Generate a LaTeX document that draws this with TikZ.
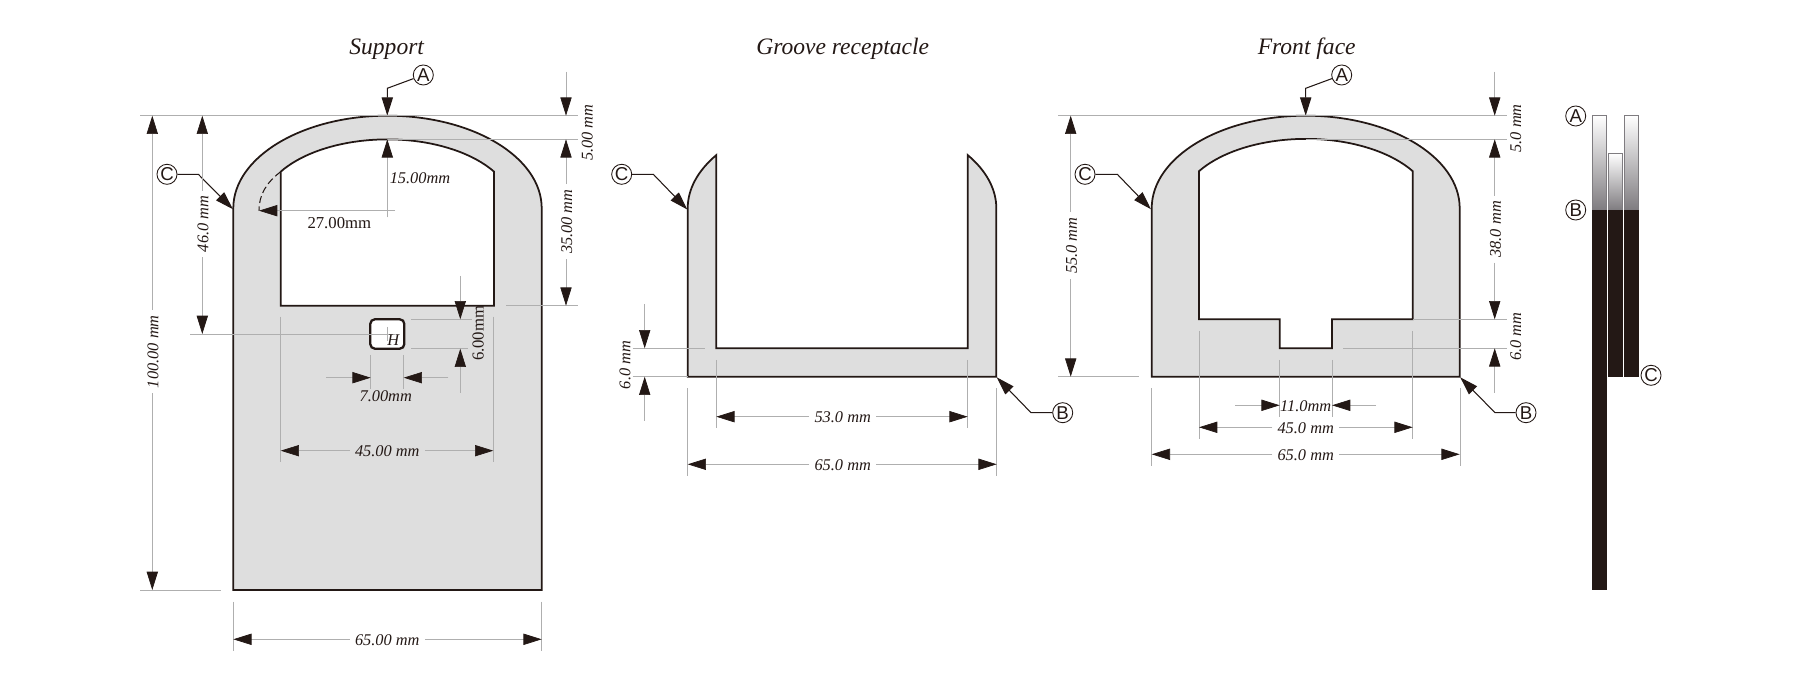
\documentclass[tikz,border=0pt]{standalone}
\usepackage{fontspec}
\setmainfont{Liberation Serif}
\setsansfont{Liberation Sans}
\usetikzlibrary{arrows.meta}
\definecolor{inkblack}{HTML}{231815}
\definecolor{partgrey}{HTML}{DEDEDE}
\definecolor{dimgrey}{HTML}{AFAFAF}
\definecolor{stripgrey}{HTML}{7F7C80}
\tikzset{
    part/.style={fill=partgrey, draw=inkblack, line width=0.5pt},
    hole/.style={fill=white, draw=inkblack, line width=0.5pt},
    ext/.style={draw=dimgrey, line width=0.2pt},
    dimline/.style={draw=dimgrey, line width=0.2pt, -{Triangle[length=5.2pt,width=3.2pt,color=inkblack]}},
    leader/.style={draw=inkblack, line width=0.3pt, -{Triangle[length=5.2pt,width=3.2pt,color=inkblack]}},
    dimtext/.style={font=\fontsize{4.65}{5}\selectfont\itshape, text=inkblack, inner sep=1.3pt, text height=3.5pt},
    title/.style={font=\fontsize{6.7}{8}\selectfont\itshape, text=inkblack},
    tag/.style={circle, draw=inkblack, line width=0.25pt, minimum size=5.7pt, inner sep=0pt, text=inkblack, font=\fontsize{5.3}{5}\selectfont\sffamily},
    strip/.style={draw=stripgrey, line width=0.25pt, top color=white, bottom color=stripgrey},
    stripdark/.style={fill=inkblack}
}
\begin{document}
\begin{tikzpicture}[x=0.01cm, y=-0.01cm]
    \useasboundingbox (0,0) rectangle (1800,686);

    % the titles
    \node[title] (supTitle) at (386.7,49) {Support};
    \node[title] (grvTitle) at (842.7,49) {Groove receptacle};
    \node[title] (frtTitle) at (1306.7,49) {Front face};

    % draw the three parts
    \filldraw[part] (233.3,590) -- (233.3,208.3) arc (180:360:154.2 and 92.6) -- (541.7,590) -- cycle;
    \filldraw[hole] (280.7,305.7) -- (280.7,171.7) arc (212.13:327.87:126 and 69) -- (494.1,305.7) -- cycle;
    \draw[hole, rounded corners=1.3pt, line width=0.65pt] (370.3,319.3) rectangle (404.3,348.7);
    %
    \filldraw[part] (687.7,376.7) -- (687.7,208.3) arc (180:215.07:157.6 and 92.6) -- (716.3,348.3)
        -- (967.7,348.3) -- (967.7,155.1) arc (324.93:360:157.6 and 92.6) -- (996.3,376.7) -- cycle;
    %
    \filldraw[part] (1151.7,376.7) -- (1151.7,208.3) arc (180:360:154 and 92.6) -- (1459.7,376.7) -- cycle;
    \filldraw[hole] (1199,319.3) -- (1199,171.2) arc (212.13:327.87:126.2 and 69) -- (1412.7,319.3)
        -- (1332,319.3) -- (1332,348.3) -- (1279.7,348.3) -- (1279.7,319.3) -- cycle;

    % the side view
    \shade[strip] (1592.3,115.3) rectangle (1606.7,210);
    \shade[strip] (1608.3,153.3) rectangle (1622.7,210);
    \shade[strip] (1624.3,115.3) rectangle (1638.7,210);
    \fill[stripdark] (1592.3,210) rectangle (1606.7,590);
    \fill[stripdark] (1608.3,210) rectangle (1622.7,376.7);
    \fill[stripdark] (1624.3,210) rectangle (1638.7,376.7);

    % the letters and their leaders
    \node[tag] (supA) at (423.3,75) {A};
    \node[tag] (supC) at (167,174.3) {C};
    \coordinate (supAbend) at (387.3,88.3);
    \coordinate (supAtip) at (387.3,115.7);
    \coordinate (supCbend) at (198.3,174.3);
    \coordinate (supCtip) at (233,209.3);
    \draw[leader] (supA) -- (supAbend) -- (supAtip);
    \draw[leader] (supC) -- (supCbend) -- (supCtip);
    %
    \node[tag] (grvC) at (621.7,174.3) {C};
    \node[tag] (grvB) at (1062.7,412.7) {B};
    \coordinate (grvCbend) at (653.3,174.3);
    \coordinate (grvCtip) at (687.4,209.6);
    \coordinate (grvBbend) at (1031,412.7);
    \coordinate (grvBtip) at (996.7,377.3);
    \draw[leader] (grvC) -- (grvCbend) -- (grvCtip);
    \draw[leader] (grvB) -- (grvBbend) -- (grvBtip);
    %
    \node[tag] (frtA) at (1341.7,75) {A};
    \node[tag] (frtC) at (1085,174.3) {C};
    \node[tag] (frtB) at (1526,412.7) {B};
    \coordinate (frtAbend) at (1305.7,88.3);
    \coordinate (frtAtip) at (1305.7,115.7);
    \coordinate (frtCbend) at (1117.3,174.3);
    \coordinate (frtCtip) at (1151,209.3);
    \coordinate (frtBbend) at (1495,412.7);
    \coordinate (frtBtip) at (1460.2,377.3);
    \draw[leader] (frtA) -- (frtAbend) -- (frtAtip);
    \draw[leader] (frtC) -- (frtCbend) -- (frtCtip);
    \draw[leader] (frtB) -- (frtBbend) -- (frtBtip);
    %
    \node[tag] (sideA) at (1575.7,116) {A};
    \node[tag] (sideB) at (1575.7,210) {B};
    \node[tag] (sideC) at (1651,375.3) {C};

    % the support: extension lines
    \draw[ext] (140,115.7) -- (577.7,115.7);
    \draw[ext] (387.3,139.3) -- (577.7,139.3);
    \draw[ext] (506,305.7) -- (577.7,305.7);
    \draw[ext] (190,334) -- (394.5,334);
    \draw[ext] (387.3,327) -- (387.3,341);
    \draw[ext] (140,590) -- (221,590);
    \draw[ext] (411,319.3) -- (472,319.3);
    \draw[ext] (411,348.7) -- (468,348.7);
    \draw[ext] (370.7,355) -- (370.7,389.3);
    \draw[ext] (403.7,355) -- (403.7,389.3);
    \draw[ext] (280.7,316.7) -- (280.7,462.3);
    \draw[ext] (493.3,316.7) -- (493.3,462.3);
    \draw[ext] (233.3,601.7) -- (233.3,651);
    \draw[ext] (541.7,601.7) -- (541.7,651);

    % the support: dimensions
    \node[dimtext, rotate=90] (sup5) at (586.7,132.7) {5.00 mm};
    \draw[dimline] (566,71.7) -- (566,115.7);
    \node[dimtext, rotate=90] (sup35) at (566,221.7) {35.00 mm};
    \draw[dimline] (sup35) -- (566,139.3);
    \draw[dimline] (sup35) -- (566,305.7);
    \node[dimtext, rotate=90] (sup46) at (202.3,224) {46.0 mm};
    \draw[dimline] (sup46) -- (202.3,115.7);
    \draw[dimline] (sup46) -- (202.3,334);
    \node[dimtext, rotate=90] (sup100) at (152.3,351.7) {100.00 mm};
    \draw[dimline] (sup100) -- (152.3,115.7);
    \draw[dimline] (sup100) -- (152.3,590);
    \node[dimtext] (sup15) at (420,177.3) {15.00mm};
    \draw[dimline] (387.3,217.3) -- (387.3,139.3);
    \node[dimtext, font=\fontsize{4.75}{5}\selectfont] (sup27) at (339.3,222.7) {27.00mm};
    \draw[dimline] (395,210.7) -- (259,210.7);
    \draw[inkblack, line width=0.3pt, dash pattern=on 2pt off 1pt] (280.7,171.7) .. controls (266,183) and (259,195) .. (259,210.7);
    \node[dimtext, font=\fontsize{4.75}{5}\selectfont, rotate=90] (sup6) at (477.7,333.3) {6.00mm};
    \draw[dimline] (460.3,276) -- (460.3,319.3);
    \draw[dimline] (460.3,392.7) -- (460.3,348.7);
    \node[dimtext] (sup7) at (385.7,395.5) {7.00mm};
    \draw[dimline] (326,377.7) -- (370.7,377.7);
    \draw[dimline] (448.3,377.7) -- (403.7,377.7);
    \node[dimtext] (sup45) at (387.3,450.7) {45.00 mm};
    \draw[dimline] (sup45) -- (280.7,450.7);
    \draw[dimline] (sup45) -- (493.3,450.7);
    \node[dimtext] (sup65) at (387.3,639.3) {65.00 mm};
    \draw[dimline] (sup65) -- (233.3,639.3);
    \draw[dimline] (sup65) -- (541.7,639.3);
    \node[dimtext] (supH) at (393.3,339) {H};

    % the groove receptacle
    \draw[ext] (632.7,348.3) -- (705,348.3);
    \draw[ext] (632.7,376.7) -- (687.7,376.7);
    \draw[ext] (716.3,360) -- (716.3,428.3);
    \draw[ext] (967.7,360) -- (967.7,428.3);
    \draw[ext] (687.7,388.3) -- (687.7,476);
    \draw[ext] (996.7,388.3) -- (996.7,476);
    \node[dimtext, rotate=90] (grv6) at (624.3,365) {6.0 mm};
    \draw[dimline] (644.7,304) -- (644.7,348.3);
    \draw[dimline] (644.7,421) -- (644.7,376.7);
    \node[dimtext] (grv53) at (842.7,416.7) {53.0 mm};
    \draw[dimline] (grv53) -- (716.3,416.7);
    \draw[dimline] (grv53) -- (967.7,416.7);
    \node[dimtext] (grv65) at (842.7,464.3) {65.0 mm};
    \draw[dimline] (grv65) -- (687.7,464.3);
    \draw[dimline] (grv65) -- (996.7,464.3);

    % the front face
    \draw[ext] (1058.3,115.7) -- (1506.7,115.7);
    \draw[ext] (1305.7,139.3) -- (1506.7,139.3);
    \draw[ext] (1412.7,319.3) -- (1506.7,319.3);
    \draw[ext] (1343.3,348.3) -- (1506.7,348.3);
    \draw[ext] (1058.3,376.7) -- (1139.3,376.7);
    \draw[ext] (1279.7,360) -- (1279.7,417.3);
    \draw[ext] (1332,360) -- (1332,417.3);
    \draw[ext] (1199,331) -- (1199,439);
    \draw[ext] (1412.7,331) -- (1412.7,439);
    \draw[ext] (1151.7,388.3) -- (1151.7,465.7);
    \draw[ext] (1460,388.3) -- (1460,465.7);
    \node[dimtext, rotate=90] (frt5) at (1515,128.3) {5.0 mm};
    \draw[dimline] (1494.7,71.7) -- (1494.7,115.7);
    \node[dimtext, rotate=90] (frt38) at (1494.7,229.3) {38.0 mm};
    \draw[dimline] (frt38) -- (1494.7,139.3);
    \draw[dimline] (frt38) -- (1494.7,319.3);
    \node[dimtext, rotate=90] (frt6) at (1515,336.7) {6.0 mm};
    \draw[dimline] (1494.7,392.7) -- (1494.7,348.3);
    \node[dimtext, rotate=90] (frt55) at (1070.7,245.7) {55.0 mm};
    \draw[dimline] (frt55) -- (1070.7,115.7);
    \draw[dimline] (frt55) -- (1070.7,376.7);
    \node[dimtext] (frt11) at (1305.7,405.3) {11.0mm};
    \draw[dimline] (1235,405.3) -- (1279.7,405.3);
    \draw[dimline] (1376,405.3) -- (1332,405.3);
    \node[dimtext] (frt45) at (1305.7,427.3) {45.0 mm};
    \draw[dimline] (frt45) -- (1199,427.3);
    \draw[dimline] (frt45) -- (1412.7,427.3);
    \node[dimtext] (frt65) at (1305.7,454.3) {65.0 mm};
    \draw[dimline] (frt65) -- (1151.7,454.3);
    \draw[dimline] (frt65) -- (1459.7,454.3);
\end{tikzpicture}
\end{document}
